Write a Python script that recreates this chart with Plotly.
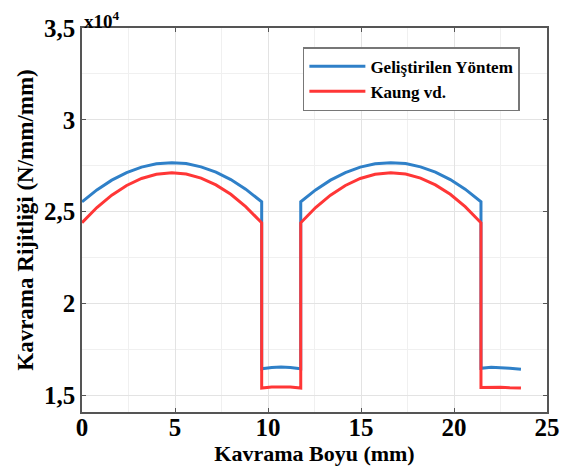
import plotly.graph_objects as go

# ---- data (y in units of 1e4 N/mm/mm) ----
x_vals = [0, 0.8, 1.6, 2.4, 3.2, 4.0, 4.83, 5.6, 6.4, 7.2, 8.0, 8.8, 9.66,
          9.66, 10.2, 10.7, 11.2, 11.76,
          11.76, 12.56, 13.36, 14.16, 14.96, 15.76, 16.6, 17.4, 18.2, 19.0, 19.8, 20.6, 21.45,
          21.45, 22.0, 22.5, 23.0, 23.6]

blue_y = [2.554, 2.619, 2.672, 2.713, 2.743, 2.761, 2.767, 2.762, 2.744, 2.716, 2.675, 2.623, 2.554,
          1.645, 1.652, 1.655, 1.652, 1.645,
          2.554, 2.619, 2.672, 2.713, 2.743, 2.761, 2.767, 2.762, 2.744, 2.716, 2.675, 2.623, 2.554,
          1.648, 1.653, 1.652, 1.648, 1.643]

red_y = [2.440, 2.523, 2.590, 2.643, 2.681, 2.704, 2.712, 2.705, 2.683, 2.646, 2.595, 2.528, 2.440,
         1.540, 1.546, 1.548, 1.546, 1.540,
         2.440, 2.523, 2.590, 2.643, 2.681, 2.704, 2.712, 2.705, 2.683, 2.646, 2.595, 2.528, 2.440,
         1.543, 1.546, 1.545, 1.542, 1.540]

series_names = ["Geliştirilen Yöntem", "Kaung vd."]
x_ticks = [0, 5, 10, 15, 20, 25]
y_ticks = [1.5, 2, 2.5, 3, 3.5]
y_ticklabels = ["1,5", "2", "2,5", "3", "3,5"]

FONT = "Liberation Serif"
frame = "#555555"
grid = "#e3e3e3"

fig = go.Figure()
fig.add_trace(go.Scatter(x=x_vals, y=blue_y, mode="lines", name=series_names[0],
                         line=dict(color="#2f80c8", width=3)))
fig.add_trace(go.Scatter(x=x_vals, y=red_y, mode="lines", name=series_names[1],
                         line=dict(color="#ff3636", width=3)))

# page body has an 8px default margin; margins compensate so the plot sits where the reference has it
fig.update_layout(
    width=583, height=472,
    margin=dict(l=74, r=44, t=20, b=68, autoexpand=False),
    paper_bgcolor="white", plot_bgcolor="white",
    font=dict(family=FONT, color="black"),
    showlegend=True,
    legend=dict(x=0.475, y=0.95, xanchor="left", yanchor="top",
                bgcolor="white", bordercolor="#777777", borderwidth=1.5,
                font=dict(family=FONT, size=17, color="black", weight="bold"),
                tracegroupgap=0, itemwidth=56),
    annotations=[dict(xref="paper", yref="paper", x=0, y=1.0, xanchor="left", yanchor="bottom",
                      text="x10<sup>4</sup>", showarrow=False, yshift=-6,
                      font=dict(family=FONT, size=19, color="black", weight="bold"))],
)

fig.update_xaxes(
    range=[0, 25], tickvals=x_ticks,
    title=dict(text="Kavrama Boyu (mm)", font=dict(family=FONT, size=22, weight="bold"), standoff=0),
    tickfont=dict(family=FONT, size=25, weight="bold"), ticklabelstandoff=-8,
    showline=True, linecolor=frame, linewidth=1.5, mirror="allticks",
    ticks="inside", ticklen=4, tickcolor=frame,
    showgrid=True, gridcolor=grid, gridwidth=1, zeroline=False, automargin=False,
    minor=dict(dtick=2.5, tick0=0, showgrid=True, gridcolor="#f0f0f0", ticks=""),
)
fig.update_yaxes(
    range=[1.41, 3.5], tickvals=y_ticks, ticktext=y_ticklabels,
    title=dict(text="Kavrama Rijitliği (N/mm/mm)", font=dict(family=FONT, size=23, weight="bold"), standoff=4),
    tickfont=dict(family=FONT, size=25, weight="bold"),
    showline=True, linecolor=frame, linewidth=1.5, mirror="allticks",
    ticks="inside", ticklen=4, tickcolor=frame,
    showgrid=True, gridcolor=grid, gridwidth=1, zeroline=False, automargin=False,
    minor=dict(dtick=0.25, tick0=1.5, showgrid=True, gridcolor="#f0f0f0", ticks=""),
)

fig.write_html("out.html")
